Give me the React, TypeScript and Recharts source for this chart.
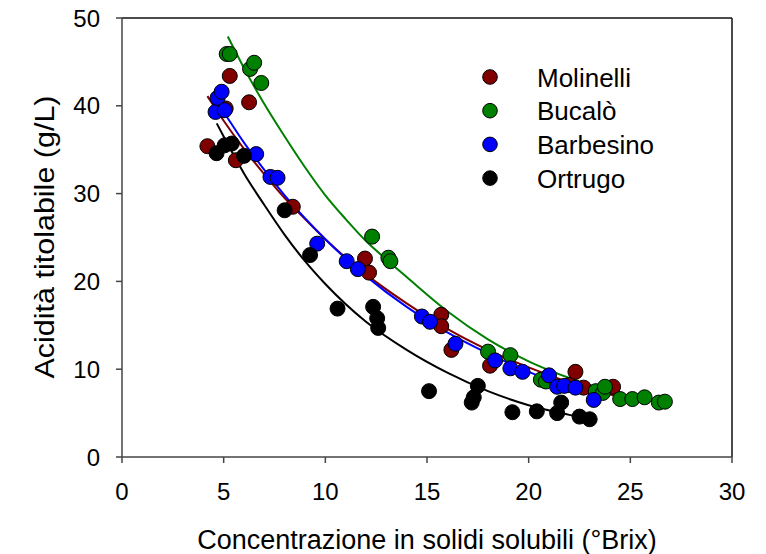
import { ComposedChart, Scatter, Line, XAxis, YAxis, ReferenceLine, Label, Legend } from 'recharts';

const FONT = '"Liberation Sans", Arial, Helvetica, sans-serif';

const xTicks = [0, 5, 10, 15, 20, 25, 30];
const yTicks = [0, 10, 20, 30, 40, 50];

// measured points: [°Brix, acidity g/L]
const molinelli: [number, number][] = [
    [4.2, 35.4], [5.1, 39.7], [5.3, 43.4], [5.6, 33.8], [6.25, 40.4], [8.4, 28.5],
    [11.95, 22.6], [12.15, 21.0], [15.7, 16.2], [15.7, 14.9], [16.2, 12.2], [18.1, 10.4],
    [22.0, 8.2], [22.3, 9.7], [22.7, 7.9], [24.15, 8.0],
];
const bucalo: [number, number][] = [
    [5.15, 45.9], [5.3, 45.9], [6.3, 44.2], [6.5, 44.9], [6.85, 42.6], [12.3, 25.1],
    [13.1, 22.7], [13.2, 22.3], [18.0, 12.0], [19.1, 11.6], [20.6, 8.8], [20.85, 8.6],
    [23.3, 7.5], [23.65, 7.3], [23.75, 8.0], [24.5, 6.6], [25.1, 6.6], [25.7, 6.8],
    [26.4, 6.2], [26.7, 6.3],
];
const barbesino: [number, number][] = [
    [4.6, 39.3], [4.7, 40.9], [4.9, 41.6], [5.05, 39.5], [6.6, 34.5], [7.3, 31.9],
    [7.65, 31.8], [9.6, 24.3], [11.05, 22.3], [11.6, 21.4], [14.75, 16.0], [15.15, 15.4],
    [16.4, 12.9], [18.35, 11.0], [19.1, 10.1], [19.7, 9.7], [21.0, 9.3], [21.4, 8.0],
    [21.75, 8.1], [22.3, 7.9], [23.2, 6.5],
];
const ortrugo: [number, number][] = [
    [4.65, 34.6], [5.05, 35.5], [5.4, 35.7], [6.0, 34.3], [8.0, 28.1], [9.25, 23.0],
    [10.6, 16.9], [12.35, 17.1], [12.55, 15.8], [12.6, 14.7], [15.1, 7.5], [17.2, 6.2],
    [17.3, 6.8], [17.5, 8.1], [19.2, 5.1], [20.4, 5.2], [21.4, 5.0], [21.6, 6.2],
    [22.5, 4.6], [23.0, 4.3],
];

// fitted curves
const molinelliFit: [number, number][] = [
    [4.2, 41.1], [5, 38.3], [6, 35.1], [7, 32.2], [8, 29.5], [9, 27.1], [10, 24.8],
    [12, 20.8], [14, 17.5], [16, 14.6], [18, 12.2], [20, 10.2], [22, 8.5], [24.2, 7.0],
];
const bucaloFit: [number, number][] = [
    [5.2, 47.9], [6, 44.3], [7, 40.2], [8, 36.5], [9, 33.0], [10, 29.8], [11, 27.1],
    [12, 24.6], [13, 22.5], [14, 20.5], [16, 16.6], [18, 13.4], [20, 10.9], [22, 9.0],
    [24, 7.5], [26.7, 6.1],
];
const barbesinoFit: [number, number][] = [
    [4.6, 40.7], [5, 39.3], [6, 35.8], [7, 32.7], [8, 29.8], [9, 27.2], [10, 24.8],
    [12, 20.6], [14, 17.1], [16, 14.2], [18, 11.8], [20, 9.7], [22, 8.0], [23.2, 7.0],
];
const ortrugoFit: [number, number][] = [
    [4.66, 38.0], [5, 36.5], [6, 32.3], [7, 28.7], [8, 25.3], [9, 22.3], [10, 19.7],
    [12, 15.4], [14, 12.2], [16, 9.6], [18, 7.5], [20, 5.9], [22, 4.8], [23, 4.3],
];

const toPoints = (arr: [number, number][]) => arr.map(([x, y]) => ({ x, y }));

const series = [
    { name: 'Molinelli', color: '#800000', points: molinelli, fit: molinelliFit },
    { name: 'Bucalò', color: '#008000', points: bucalo, fit: bucaloFit },
    { name: 'Barbesino', color: '#0000ff', points: barbesino, fit: barbesinoFit },
    { name: 'Ortrugo', color: '#000000', points: ortrugo, fit: ortrugoFit },
];

const renderLegend = () => (
    <svg width={220} height={150}>
        {series.map((s, i) => (
            <g key={s.name}>
                <circle cx={20} cy={17 + i * 33.7} r={7.3} fill={s.color} stroke="#000" strokeWidth={1} />
                <text x={67} y={26.5 + i * 33.7} fontSize={26} fontFamily={FONT} fill="#000">
                    {s.name}
                </text>
            </g>
        ))}
    </svg>
);

export default function App() {
    return (
        <div style={{ position: 'absolute', left: 0, top: 0, width: 766, height: 554, background: '#fff' }}>
            <ComposedChart width={766} height={554} margin={{ top: 18, right: 34, bottom: 0, left: 0 }}>
                <XAxis
                    type="number"
                    dataKey="x"
                    domain={[0, 30]}
                    ticks={xTicks}
                    tickSize={6}
                    tickMargin={20}
                    height={97}
                    stroke="#444"
                    strokeWidth={1.5}
                    tick={{ fontSize: 24, fill: '#000', fontFamily: FONT }}
                    allowDataOverflow
                >
                    <Label
                        value="Concentrazione in solidi solubili (°Brix)"
                        position="insideBottom"
                        offset={5}
                        style={{ fontSize: 27, fill: '#000', fontFamily: FONT }}
                    />
                </XAxis>
                <YAxis
                    type="number"
                    dataKey="y"
                    domain={[0, 50]}
                    ticks={yTicks}
                    tickSize={6}
                    tickMargin={16}
                    width={122}
                    stroke="#444"
                    strokeWidth={1.5}
                    tick={{ fontSize: 24, fill: '#000', fontFamily: FONT }}
                    allowDataOverflow
                >
                    <Label
                        content={() => (
                            <text
                                x={45}
                                y={237}
                                transform="rotate(-90, 45, 237)"
                                textAnchor="middle"
                                dominantBaseline="central"
                                fontSize={27}
                                fontFamily={FONT}
                                fill="#000"
                                textLength={283}
                                lengthAdjust="spacingAndGlyphs"
                            >
                                Acidità titolabile (g/L)
                            </text>
                        )}
                    />
                </YAxis>
                <ReferenceLine y={50} stroke="#111" strokeWidth={1.5} />
                <ReferenceLine x={30} stroke="#111" strokeWidth={1.5} />
                {series.map((s) => (
                    <Scatter
                        key={`pts-${s.name}`}
                        name={s.name}
                        data={toPoints(s.points)}
                        dataKey="y"
                        fill={s.color}
                        isAnimationActive={false}
                        shape={(props: any) => (
                            <circle cx={props.cx} cy={props.cy} r={7.5} fill={s.color} stroke="#000" strokeWidth={1} />
                        )}
                    />
                ))}
                {series.map((s) => (
                    <Line
                        key={`fit-${s.name}`}
                        data={toPoints(s.fit)}
                        dataKey="y"
                        type="monotone"
                        stroke={s.color}
                        strokeWidth={2}
                        dot={false}
                        activeDot={false}
                        legendType="none"
                        isAnimationActive={false}
                    />
                ))}
                <Legend
                    layout="vertical"
                    align="center"
                    verticalAlign="middle"
                    content={renderLegend}
                    wrapperStyle={{ left: 470, top: 60, width: 220, height: 150 }}
                />
            </ComposedChart>
        </div>
    );
}
